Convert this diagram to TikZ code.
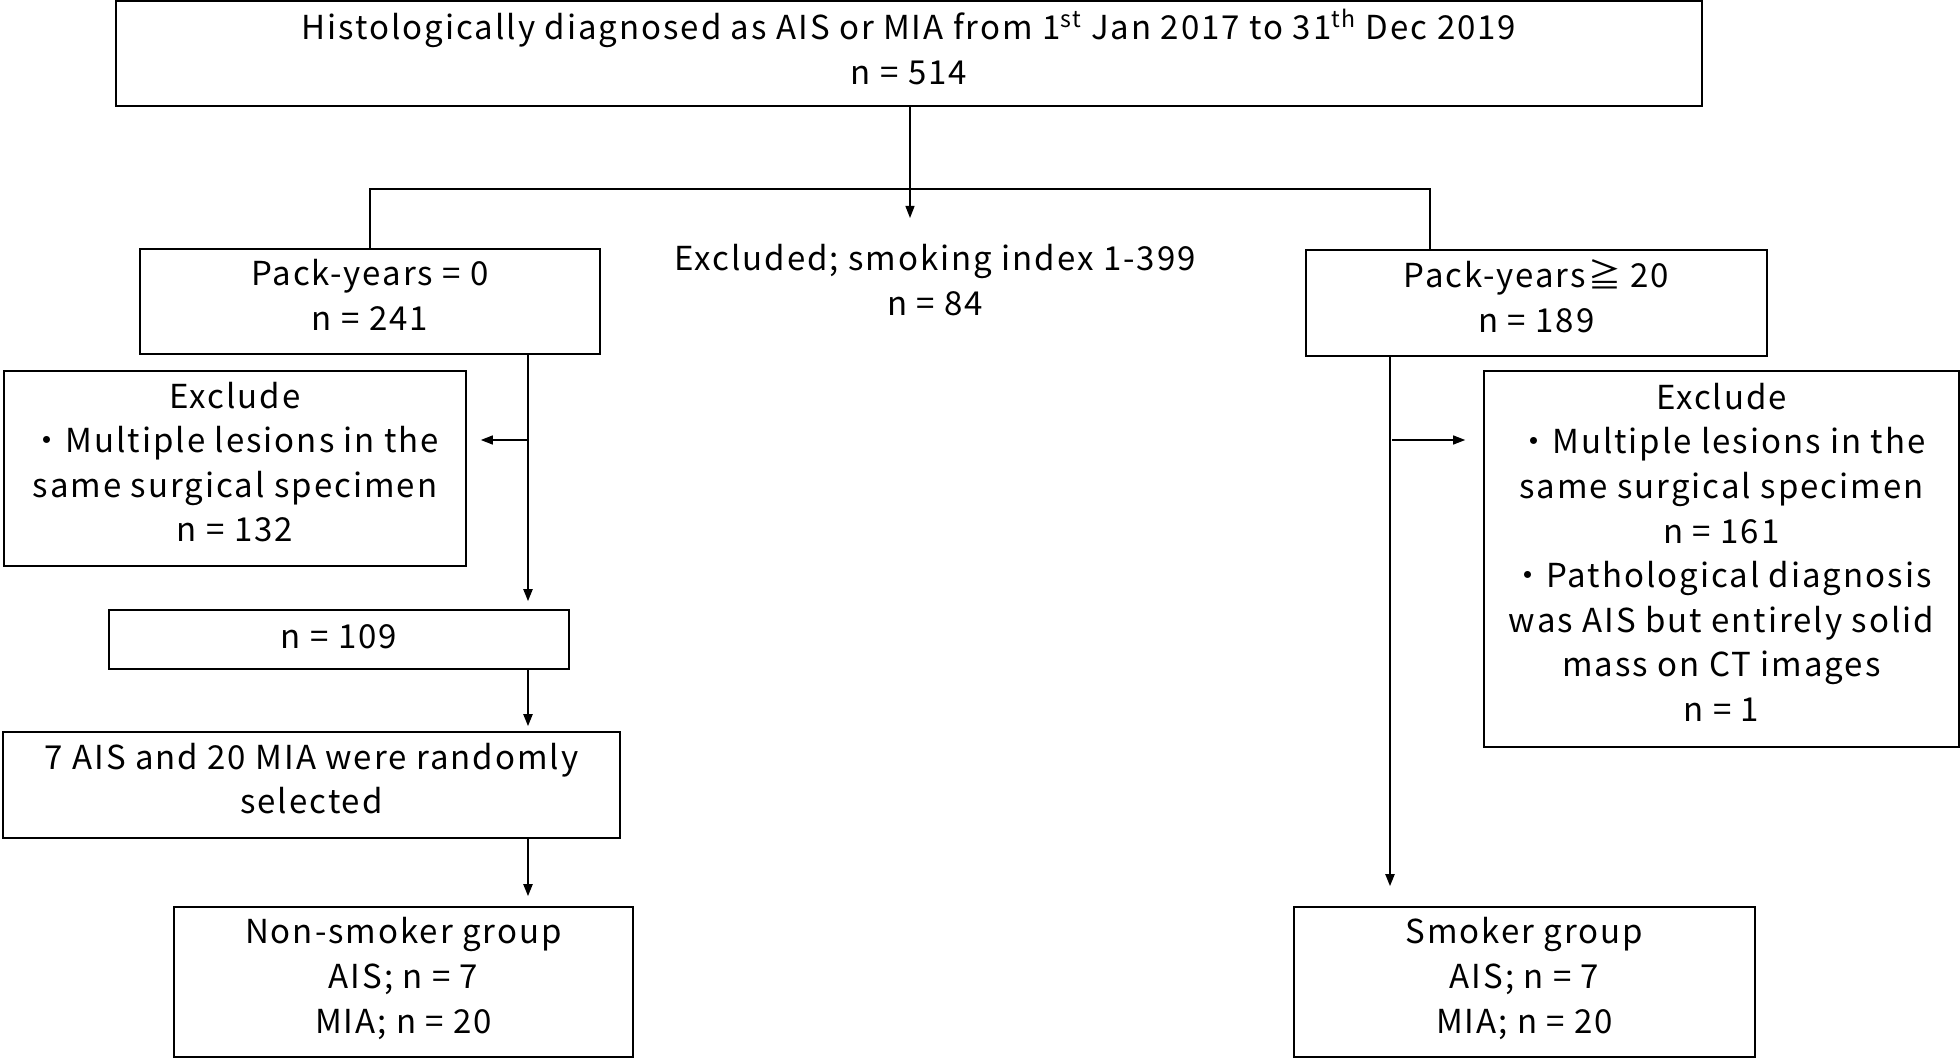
\documentclass[tikz,border=0pt]{standalone}
\usepackage{fontspec}
\setmainfont[LetterSpace=6]{Noto Sans CJK JP}
\usetikzlibrary{arrows.meta}
\tikzset{
	box node/.style={draw, line width=0.8pt, align=center, inner sep=0pt, execute at end node={\strut}},
	text node/.style={align=center, inner sep=0pt},
	thin line/.style={line width=0.6pt},
	thick line/.style={line width=1pt},
	arrow line/.style={-{Triangle[length=6pt,width=4.5pt]}},
}

\begin{document}
\begin{tikzpicture}[x=0.5pt, y=-0.5pt, every node/.style={font=\fontsize{16.5}{22.3}\selectfont}]

  \useasboundingbox (0,0) rectangle (1960,1059);

  \node[box node, minimum width=793pt, minimum height=52.5pt] (top) at (909,53.5)
    {Histologically diagnosed as AIS or MIA from 1\textsuperscript{st} Jan 2017 to 31\textsuperscript{th} Dec 2019\\n = 514};
  \node[text node] (mid) at (935,280) {Excluded; smoking index 1-399\\n = 84};

  \node[box node, minimum width=230pt, minimum height=52.5pt] (p0) at (370,301.5) {Pack-years = 0\\n = 241};
  \node[box node, minimum width=231pt, minimum height=97.5pt] (exl) at (235,468.5)
    {Exclude\\・Multiple lesions in the\\same surgical specimen\\n = 132};
  \node[box node, minimum width=230pt, minimum height=29.5pt] (n109) at (339,639.5) {n = 109};
  \node[box node, minimum width=308.5pt, minimum height=53pt] (rand) at (311.5,785)
    {7 AIS and 20 MIA were randomly\\selected};
  \node[box node, minimum width=229.5pt, minimum height=75pt] (nons) at (403.5,982)
    {Non-smoker group\\AIS; n = 7\\MIA; n = 20};

  \node[box node, minimum width=230.5pt, minimum height=53pt] (p20) at (1536.5,303) {Pack-years≧ 20\\n = 189};
  \node[box node, minimum width=237.5pt, minimum height=188pt] (exr) at (1721.5,559)
    {Exclude\\・Multiple lesions in the\\same surgical specimen\\n = 161\\・Pathological diagnosis\\was AIS but entirely solid\\mass on CT images\\n = 1};
  \node[box node, minimum width=230.5pt, minimum height=75pt] (smk) at (1524.5,982)
    {Smoker group\\AIS; n = 7\\MIA; n = 20};

  \coordinate (tip) at (910,218);
  \coordinate (bl) at (370,189);
  \coordinate (br) at (1430,189);
  \coordinate (lj) at (528,440);
  \coordinate (rj) at (1390,440);

  \draw[thin line, arrow line] (top.south -| tip) -- (tip);
  \draw[thin line] (p0.north) -- (bl) -- (br) -- (br |- p20.north);
  \draw[thick line, arrow line, shorten >=4pt] (lj |- p0.south) -- (lj |- n109.north);
  \draw[thin line, arrow line, shorten >=7pt] (lj) -- (lj -| exl.east);
  \draw[thick line, arrow line, shorten >=2.5pt] (lj |- n109.south) -- (lj |- rand.north);
  \draw[thick line, arrow line, shorten >=5pt] (lj |- rand.south) -- (lj |- nons.north);
  \draw[thick line, arrow line, shorten >=10pt] (rj |- p20.south) -- (rj |- smk.north);
  \draw[thin line, arrow line, shorten <=1pt, shorten >=9pt] (rj) -- (rj -| exr.west);

\end{tikzpicture}
\end{document}
